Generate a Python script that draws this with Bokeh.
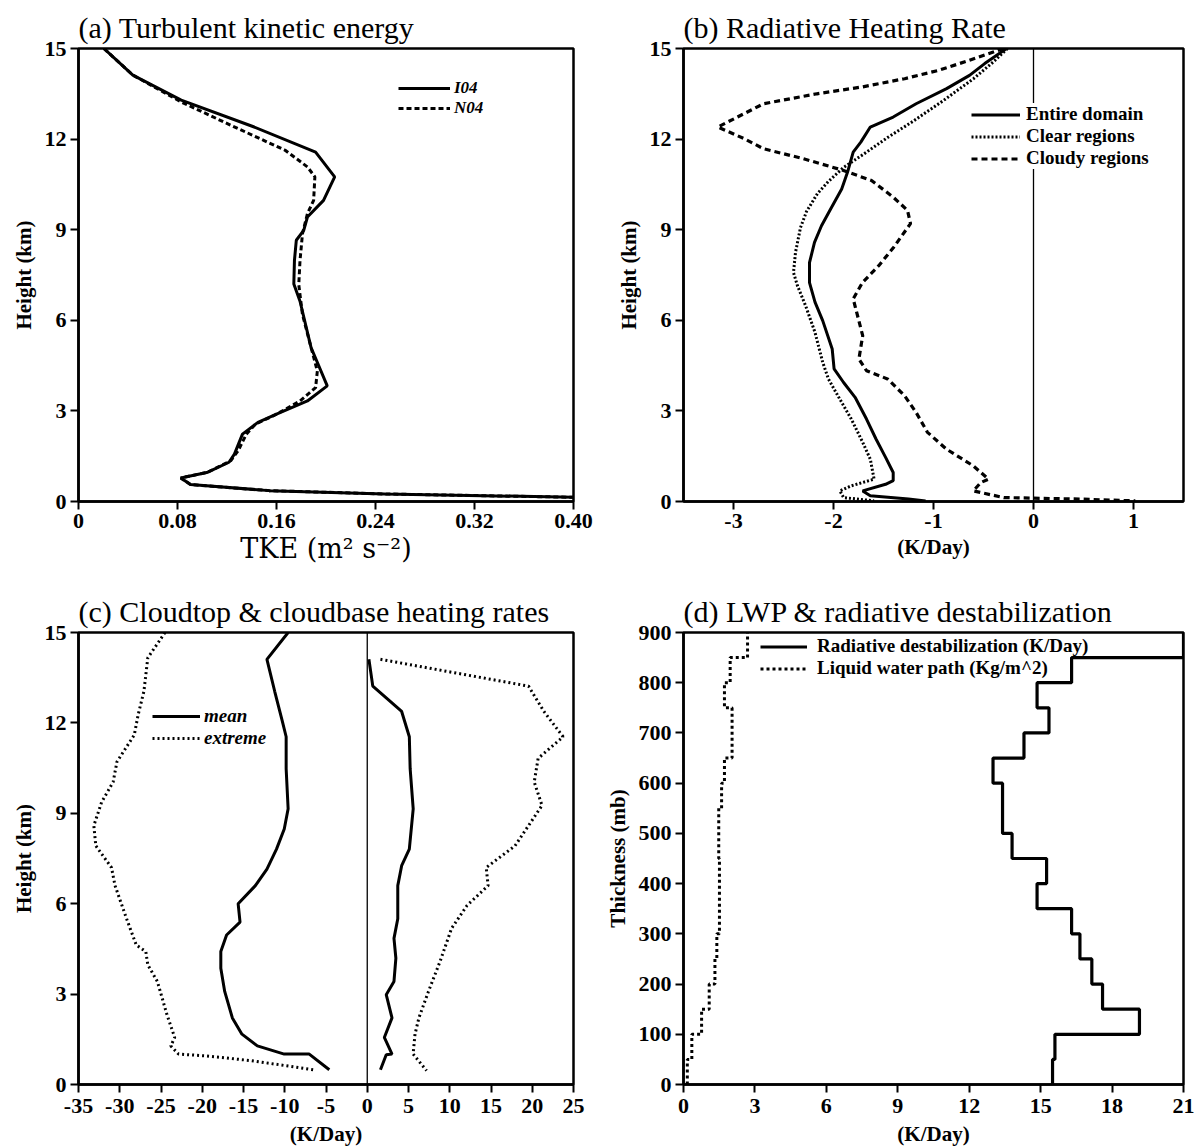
import numpy as np
from bokeh.plotting import figure
from bokeh.models import Span, Legend, LegendItem, FixedTicker, Range1d
from bokeh.layouts import gridplot
from bokeh.embed import file_html
from bokeh.resources import INLINE

SERIF = "Liberation Serif"

# ---------------- (a) Turbulent kinetic energy ----------------
a_i04_tke = [0.0205, 0.0439, 0.083, 0.142, 0.1916, 0.207, 0.198, 0.185, 0.182, 0.176, 0.1745, 0.174,
             0.179, 0.188, 0.201, 0.185, 0.160, 0.145, 0.1325, 0.126, 0.1216, 0.1045, 0.0827, 0.0905,
             0.154, 0.2476, 0.40]
a_i04_h = [15, 14.12, 13.29, 12.4, 11.57, 10.75, 9.97, 9.42, 8.98, 8.65, 7.98, 7.2,
           6.63, 5.09, 3.83, 3.33, 2.89, 2.62, 2.23, 1.57, 1.30, 0.97, 0.78, 0.56,
           0.36, 0.25, 0.14]
a_n04_tke = [0.0205, 0.0439, 0.083, 0.123, 0.167, 0.185, 0.191, 0.190, 0.185, 0.181, 0.179, 0.178,
             0.181, 0.188, 0.193, 0.1916, 0.179, 0.160, 0.143, 0.1356, 0.129, 0.123, 0.1045, 0.0827,
             0.0905, 0.154, 0.2476, 0.40]
a_n04_h = [15, 14.12, 13.23, 12.46, 11.63, 11.08, 10.75, 9.97, 9.53, 8.87, 7.98, 7.18,
           6.19, 5.09, 4.32, 3.77, 3.33, 2.89, 2.56, 2.23, 1.68, 1.35, 0.97, 0.78,
           0.56, 0.36, 0.25, 0.14]
a_xticks = [0, 0.08, 0.16, 0.24, 0.32, 0.4]
a_xlabels = ["0", "0.08", "0.16", "0.24", "0.32", "0.40"]

# ---------------- (b) Radiative heating rate ----------------
b_entire_x = [-0.27, -0.488, -0.640, -0.869, -1.174, -1.403, -1.632, -1.727, -1.803, -1.860, -1.918,
              -2.03, -2.12, -2.19, -2.24, -2.24, -2.185, -2.108, -2.013, -1.994, -1.899, -1.784,
              -1.670, -1.575, -1.479, -1.403, -1.403, -1.479, -1.708, -1.632, -1.250, -1.079]
b_entire_h = [15, 14.5, 14.11, 13.67, 13.17, 12.73, 12.40, 11.90, 11.57, 10.90, 10.35,
              9.68, 9.13, 8.58, 7.91, 7.25, 6.6, 5.99, 5.05, 4.39, 3.94, 3.45,
              2.73, 2.07, 1.46, 0.96, 0.69, 0.57, 0.35, 0.19, 0.08, 0.02]
b_clear_x = [-0.26, -0.40, -0.60, -0.90, -1.20, -1.46, -1.70, -1.90, -2.05, -2.16, -2.27,
             -2.33, -2.38, -2.40, -2.36, -2.28, -2.185, -2.108, -2.051, -1.937, -1.822, -1.708,
             -1.632, -1.594, -1.822, -1.937, -1.899, -1.594]
b_clear_h = [15, 14.56, 14.0, 13.28, 12.6, 12.05, 11.5, 11.06, 10.6, 10.2, 9.6,
             9.07, 8.25, 7.58, 7.14, 6.49, 5.60, 4.61, 4.06, 3.39, 2.73, 1.96,
             1.40, 0.74, 0.52, 0.35, 0.13, 0.02]
b_cloudy_x = [-0.3, -0.640, -0.945, -1.289, -1.708, -2.166, -2.70, -3.157, -2.89, -2.70, -2.30,
              -1.90, -1.62, -1.40, -1.26, -1.23, -1.40, -1.55, -1.71, -1.803, -1.708, -1.746, -1.670,
              -1.460, -1.289, -1.174, -1.060, -0.869, -0.602, -0.450, -0.526, -0.602, -0.297,
              0.465, 1.018]
b_cloudy_h = [15, 14.61, 14.28, 14.0, 13.73, 13.5, 13.17, 12.40, 12.01, 11.68, 11.35,
              10.96, 10.63, 10.07, 9.64, 9.2, 8.41, 7.80, 7.25, 6.71, 5.49, 4.72, 4.33,
              4.06, 3.50, 2.95, 2.29, 1.73, 1.18, 0.74, 0.63, 0.35, 0.13,
              0.08, 0.02]
b_xticks = [-3, -2, -1, 0, 1]
b_xlabels = ["-3", "-2", "-1", "0", "1"]

# ---------------- (c) Cloudtop & cloudbase heating rates ----------------
c_top_mean_x = [-9.59, -12.16, -11.22, -10.29, -9.83, -9.83, -9.59, -10.06, -11.0, -12.16, -13.56,
                -15.65, -15.42, -17.05, -17.75, -17.75, -17.28, -16.35, -15.19, -13.32, -10.06,
                -7.03, -4.6]
c_top_mean_h = [15, 14.11, 13.05, 12.05, 11.54, 10.48, 9.15, 8.48, 7.81, 7.15, 6.60,
                6.0, 5.39, 4.96, 4.41, 3.86, 3.09, 2.21, 1.67, 1.28, 1.01,
                1.01, 0.49]
c_top_ext_x = [-24.51, -26.6, -27.07, -27.77, -28.24, -30.34, -30.8, -32.2, -33.14, -32.9, -31.0,
               -30.57, -29.17, -28.0, -26.84, -26.6, -25.44, -24.28, -23.34, -23.81, -22.88,
               -19.62, -14.0, -6.56]
c_top_ext_h = [15, 14.16, 13.05, 12.27, 11.60, 10.71, 10.04, 9.37, 8.59, 7.92, 7.2,
               6.60, 5.50, 4.63, 4.41, 3.97, 3.42, 2.32, 1.56, 1.28, 1.01,
               0.95, 0.79, 0.49]
c_base_mean_x = [0.2, 0.67, 2.3, 4.17, 5.1, 5.2, 5.57, 5.1, 4.17, 3.70, 3.70, 3.24, 3.47, 3.24,
                 2.30, 3.0, 2.07, 3.0, 2.30, 1.60]
c_base_mean_h = [14.11, 13.22, 12.83, 12.38, 11.54, 10.48, 9.15, 7.81, 7.26, 6.60, 5.50, 4.85, 4.19,
                 3.42, 2.98, 2.21, 1.56, 1.01, 0.99, 0.49]
c_base_ext_x = [1.6, 19.55, 21.41, 23.74, 20.71, 20.24, 21.18, 17.91, 14.42, 14.65, 12.09, 10.22,
                8.82, 7.42, 6.26, 5.79, 5.56, 7.19]
c_base_ext_h = [14.11, 13.22, 12.38, 11.54, 10.82, 10.04, 9.26, 7.92, 7.2, 6.6, 5.94, 5.18,
                4.08, 3.09, 2.21, 1.67, 1.01, 0.46]
c_xticks = [-35, -30, -25, -20, -15, -10, -5, 0, 5, 10, 15, 20, 25]
c_xlabels = ["-35", "-30", "-25", "-20", "-15", "-10", "-5", "0", "5", "10", "15", "20", "25"]

# ---------------- (d) LWP & radiative destabilization ----------------
d_levels = [0, 50, 100, 150, 200, 250, 300, 350, 400, 450, 500, 550, 600, 650, 700, 750, 800, 850, 900]
d_destab = [15.5, 15.6, 19.15, 17.6, 17.15, 16.65, 16.3, 14.85, 15.25, 13.8, 13.4, 13.4, 13.0,
            14.3, 15.35, 14.85, 16.3, 21.0]
d_lwp = [0.16, 0.35, 0.76, 1.08, 1.32, 1.40, 1.51, 1.51, 1.51, 1.48, 1.48, 1.6, 1.72,
         2.04, 2.04, 1.72, 1.96, 2.69]
d_xticks = [0, 3, 6, 9, 12, 15, 18, 21]
d_yticks = [0, 100, 200, 300, 400, 500, 600, 700, 800, 900]
h_ticks = [0, 3, 6, 9, 12, 15]


def make_fig(title, xr, yr, width, height, bl, br, bt, bb):
    p = figure(width=width, height=height, x_range=Range1d(*xr), y_range=Range1d(*yr),
               output_backend="svg", toolbar_location=None,
               min_border_left=bl, min_border_right=br, min_border_top=bt, min_border_bottom=bb,
               title=title)
    p.title.text_font = SERIF
    p.title.text_font_size = "30px"
    p.title.text_font_style = "normal"
    p.title.vertical_align = "middle"
    p.title.align = "left"
    p.title.standoff = 8
    p.title.text_color = "black"
    p.grid.visible = False
    p.outline_line_color = "black"
    p.outline_line_width = 2.5
    p.outline_line_alpha = 1
    p.background_fill_color = "white"
    p.border_fill_color = "white"
    for ax in p.axis:
        ax.axis_line_width = 2.5
        ax.major_tick_out = 8
        ax.major_tick_in = 0
        ax.major_tick_line_width = 2
        ax.minor_tick_line_color = None
        ax.major_label_text_font = SERIF
        ax.major_label_text_font_style = "bold"
        ax.major_label_text_font_size = "22px"
        ax.major_label_text_color = "black"
        ax.axis_label_text_font = SERIF
        ax.axis_label_text_font_style = "bold"
        ax.axis_label_text_font_size = "21px"
        ax.axis_label_text_color = "black"
        ax.major_label_standoff = 4
        ax.axis_label_standoff = 6
    return p


def set_ticks(axis, ticks, labels):
    axis.ticker = FixedTicker(ticks=ticks)
    axis.major_label_overrides = {t: l for t, l in zip(ticks, labels)}


def make_legend(items, loc, glyph_w, row_h, bg=None, italic=False, pad=0, standoff=4, size="19px"):
    lg = Legend(items=items, location=loc, orientation="vertical",
                glyph_width=glyph_w, glyph_height=row_h, label_height=row_h,
                spacing=0, padding=pad, margin=0, label_standoff=standoff,
                border_line_color=None,
                label_text_font=SERIF, label_text_font_size=size,
                label_text_font_style="bold italic" if italic else "bold",
                label_text_color="black")
    if bg is None:
        lg.background_fill_alpha = 0
    else:
        lg.background_fill_color = bg
        lg.background_fill_alpha = 1
    return lg


# ---------------- panel (a) ----------------
pa = make_fig("(a) Turbulent kinetic energy", (0, 0.4), (0, 15), 598, 580, 78, 25, 48, 79)
r_i04 = pa.line(a_i04_tke, a_i04_h, line_color="black", line_width=3)
r_n04 = pa.line(a_n04_tke, a_n04_h, line_color="black", line_width=3, line_dash="5 3")
set_ticks(pa.xaxis, a_xticks, a_xlabels)
set_ticks(pa.yaxis, h_ticks, [str(t) for t in h_ticks])
pa.yaxis.axis_label = "Height (km)"
pa.xaxis.axis_label = "TKE (m² s⁻²)"
pa.xaxis.axis_label_text_font = "DejaVu Serif"
pa.xaxis.axis_label_text_font_style = "normal"
pa.xaxis.axis_label_text_font_size = "27px"
pa.xaxis.axis_label_standoff = 2
pa.add_layout(make_legend([LegendItem(label="I04", renderers=[r_i04]),
                           LegendItem(label="N04", renderers=[r_n04])],
                          (320, 383), 52, 18, italic=True, size="17px"))

# ---------------- panel (b) ----------------
pb = make_fig("(b) Radiative Heating Rate", (-3.5, 1.5), (0, 15), 598, 580, 85, 13, 48, 79)
pb.add_layout(Span(location=0, dimension="height", line_color="black", line_width=1.3, level="underlay"))
r_ent = pb.line(b_entire_x, b_entire_h, line_color="black", line_width=3)
r_clr = pb.line(b_clear_x, b_clear_h, line_color="black", line_width=3, line_dash="2 2")
r_cld = pb.line(b_cloudy_x, b_cloudy_h, line_color="black", line_width=3.2, line_dash="6 4")
set_ticks(pb.xaxis, b_xticks, b_xlabels)
set_ticks(pb.yaxis, h_ticks, [str(t) for t in h_ticks])
pb.yaxis.axis_label = "Height (km)"
pb.xaxis.axis_label = "(K/Day)"
pb.xaxis.axis_label_standoff = 4
pb.add_layout(make_legend([LegendItem(label="Entire domain", renderers=[r_ent]),
                           LegendItem(label="Clear regions", renderers=[r_clr]),
                           LegendItem(label="Cloudy regions", renderers=[r_cld])],
                          (288, 332), 49, 19, bg="white", pad=8, standoff=6))

# ---------------- panel (c) ----------------
pc = make_fig("(c) Cloudtop & cloudbase heating rates", (-35, 25), (0, 15), 598, 568, 78, 23, 52, 63)
pc.add_layout(Span(location=0, dimension="height", line_color="black", line_width=1.3, level="underlay"))
r_mean = pc.line(c_top_mean_x, c_top_mean_h, line_color="black", line_width=3)
r_ext = pc.line(c_top_ext_x, c_top_ext_h, line_color="black", line_width=3, line_dash="2 3")
pc.line(c_base_mean_x, c_base_mean_h, line_color="black", line_width=3)
pc.line(c_base_ext_x, c_base_ext_h, line_color="black", line_width=3, line_dash="2 3")
set_ticks(pc.xaxis, c_xticks, c_xlabels)
set_ticks(pc.yaxis, h_ticks, [str(t) for t in h_ticks])
pc.yaxis.axis_label = "Height (km)"
pc.xaxis.axis_label = "(K/Day)"
pc.xaxis.major_label_standoff = 6
pc.xaxis.axis_label_standoff = 6
pc.add_layout(make_legend([LegendItem(label="mean", renderers=[r_mean]),
                           LegendItem(label="extreme", renderers=[r_ext])],
                          (74, 335), 48, 20, italic=True))

# ---------------- panel (d) ----------------
def vstep(vals, edges):
    v = np.asarray(vals, dtype=float)
    e = np.asarray(edges, dtype=float)
    xs = np.repeat(v, 2)
    ys = np.column_stack([e[:-1], e[1:]]).ravel()
    return xs, ys


pd_ = make_fig("(d) LWP & radiative destabilization", (0, 21), (0, 900), 598, 568, 85, 13, 52, 63)
dx, dy = vstep(d_destab, d_levels)
r_des = pd_.line(dx, dy, line_color="black", line_width=3.2)
lx, ly = vstep(d_lwp, d_levels)
r_lwp = pd_.line(lx, ly, line_color="black", line_width=3, line_dash="3 3")
set_ticks(pd_.xaxis, d_xticks, [str(t) for t in d_xticks])
set_ticks(pd_.yaxis, d_yticks, [str(t) for t in d_yticks])
pd_.yaxis.axis_label = "Thickness (mb)"
pd_.xaxis.axis_label = "(K/Day)"
pd_.xaxis.major_label_standoff = 6
pd_.xaxis.axis_label_standoff = 6
pd_.add_layout(make_legend([LegendItem(label="Radiative destabilization (K/Day)", renderers=[r_des]),
                            LegendItem(label="Liquid water path (Kg/m^2)", renderers=[r_lwp])],
                           (77, 405), 47, 21, standoff=10))

grid = gridplot([[pa, pb], [pc, pd_]], toolbar_location=None)
open("out.html", "w").write(file_html(grid, INLINE))
